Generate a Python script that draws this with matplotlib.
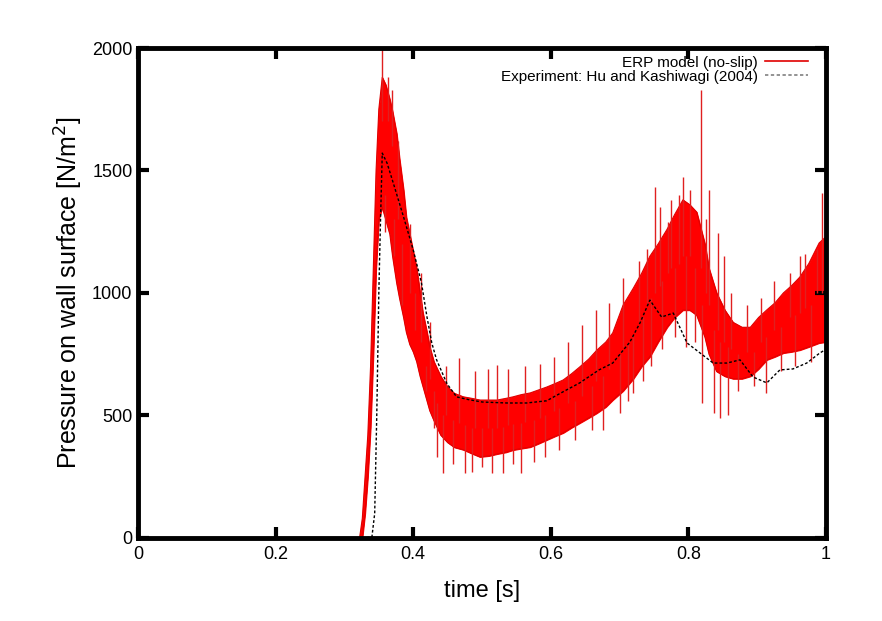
import numpy as np
import matplotlib
matplotlib.use('Agg')
import matplotlib.pyplot as plt
from matplotlib.lines import Line2D

plt.rcParams['font.family'] = ['Liberation Sans', 'DejaVu Sans']

# ERP model (no-slip): lower / upper edge of the noisy red band
t_red = [0.0, 0.322, 0.326, 0.330, 0.334, 0.338, 0.342, 0.346, 0.350, 0.355,
         0.360, 0.366, 0.370, 0.376, 0.380, 0.386, 0.390, 0.395, 0.400, 0.405,
         0.410, 0.414, 0.420, 0.424, 0.430, 0.440, 0.450, 0.460, 0.473, 0.485,
         0.497, 0.510, 0.522, 0.535, 0.545, 0.557, 0.570, 0.582, 0.594, 0.606,
         0.618, 0.630, 0.642, 0.655, 0.667, 0.680, 0.690, 0.705, 0.720, 0.732,
         0.744, 0.756, 0.769, 0.780, 0.792, 0.802, 0.812, 0.824, 0.830, 0.841,
         0.853, 0.865, 0.878, 0.890, 0.902, 0.914, 0.926, 0.938, 0.950, 0.962,
         0.975, 0.990, 1.000]
red_lo = [0, 0, 0, 100, 250, 450, 750, 1100, 1300, 1350,
          1300, 1240, 1150, 1040, 980, 900, 840, 790, 760, 720,
          660, 620, 560, 520, 480, 420, 390, 370, 360, 345,
          331, 335, 343, 350, 359, 365, 371, 385, 400, 415,
          429, 450, 469, 490, 510, 535, 563, 600, 650, 700,
          740, 800, 860, 900, 930, 930, 910, 820, 750, 680,
          660, 650, 650, 660, 690, 727, 740, 755, 760, 767,
          780, 796, 800]
red_hi = [0, 0, 80, 250, 420, 700, 1100, 1500, 1750, 1880,
          1850, 1790, 1740, 1650, 1550, 1420, 1310, 1240, 1170, 1100,
          1000, 920, 840, 780, 720, 660, 616, 590, 576, 570,
          563, 563, 563, 570, 576, 585, 592, 604, 616, 630,
          645, 670, 698, 730, 767, 800, 837, 950, 1020, 1080,
          1150, 1200, 1260, 1320, 1380, 1360, 1330, 1200, 1100, 1000,
          930, 880, 860, 860, 900, 931, 960, 1000, 1030, 1065,
          1120, 1204, 1230]

# single spikes sticking out of the band
spike_t = [0.355, 0.363, 0.369, 0.359, 0.372, 0.378, 0.384, 0.395, 0.402, 0.412,
           0.418, 0.425, 0.430, 0.435, 0.443, 0.448,
           0.458, 0.467, 0.475, 0.485, 0.490, 0.500, 0.508, 0.515, 0.522, 0.530,
           0.538, 0.545, 0.556, 0.562, 0.575, 0.585, 0.592, 0.605, 0.612, 0.625,
           0.635, 0.645, 0.660, 0.665, 0.676, 0.685, 0.700, 0.705, 0.712, 0.720,
           0.728, 0.734, 0.740, 0.746, 0.752, 0.758, 0.762, 0.770, 0.775, 0.780,
           0.786, 0.792, 0.797, 0.802, 0.810, 0.818, 0.820, 0.826,
           0.830, 0.837, 0.843, 0.846, 0.852, 0.858, 0.862, 0.872, 0.885, 0.895,
           0.905, 0.913, 0.925, 0.935, 0.948, 0.955, 0.962, 0.970, 0.978, 0.987,
           0.994, 0.998]
spike_base = [1700, 1700, 1600, 1400, 1300, 1300, 1200, 1000, 1000, 800,
              700, 650, 600, 550, 500, 500,
              480, 470, 460, 450, 450, 450, 450, 450, 450, 455,
              460, 465, 470, 475, 480, 490, 500, 520, 530, 550,
              560, 580, 620, 640, 660, 690, 750, 780, 800, 830,
              880, 900, 950, 980, 1000, 1030, 1050, 1080, 1100, 1100,
              1120, 1150, 1150, 1150, 1100, 1100, 950, 1000,
              950, 850, 850, 800, 800, 780, 770, 750, 760, 760,
              800, 820, 850, 860, 900, 910, 920, 940, 950, 1000,
              1000, 1000]
spike_tip = [1995, 1880, 1830, 1250, 1150, 1620, 950, 1280, 850, 1080,
             600, 880, 450, 330, 265, 700,
             300, 733, 265, 270, 680, 290, 690, 265, 706, 265,
             690, 300, 265, 700, 310, 710, 330, 740, 360, 800,
             400, 870, 440, 930, 440, 960, 510, 1060, 560, 590,
             1130, 640, 1180, 700, 1433, 1350, 770, 1290, 1380, 820,
             1400, 1475, 780, 1420, 800, 1829, 551, 1300,
             1420, 510, 1245, 490, 1150, 500, 1000, 600, 950, 620,
             980, 590, 1050, 680, 1080, 700, 1150, 1160, 720, 1180,
             1408, 760]

# Experiment: Hu and Kashiwagi (2004)
t_exp = [0.0, 0.330, 0.340, 0.344, 0.347, 0.350, 0.352, 0.355, 0.362, 0.371,
         0.386, 0.400, 0.412, 0.420, 0.427, 0.434, 0.449, 0.463, 0.480, 0.500,
         0.536, 0.565, 0.594, 0.620, 0.642, 0.670, 0.690, 0.715, 0.730, 0.744,
         0.761, 0.778, 0.798, 0.817, 0.836, 0.856, 0.875, 0.894, 0.914, 0.933,
         0.952, 0.972, 0.991, 1.000]
p_exp = [0, 0, 5, 100, 500, 1000, 1245, 1571, 1530, 1449,
         1310, 1176, 1041, 902, 796, 727, 630, 576, 565, 555,
         551, 551, 560, 600, 633, 686, 714, 800, 880, 971,
         902, 918, 796, 755, 714, 714, 727, 657, 633, 686,
         690, 714, 755, 770]

fig = plt.figure(figsize=(8.82, 6.21), dpi=100)
ax = fig.add_axes([0.1565, 0.1337, 0.78, 0.789])

ax.fill_between(t_red, red_lo, red_hi, color='#ff0000', linewidth=0.8, edgecolor='#ff0000')
ax.plot(t_red, red_hi, color='#e00000', lw=0.8)
ax.plot(t_red, red_lo, color='#e00000', lw=0.8)
ax.vlines(spike_t, spike_base, spike_tip, color='#e02020', lw=1.0)
ax.plot(t_exp, p_exp, color='black', lw=1.0, ls=(0, (2, 1.5)))

ax.set_xlim(0, 1)
ax.set_ylim(0, 2000)
ax.set_xticks([0, 0.2, 0.4, 0.6, 0.8, 1])
ax.set_xticklabels(['0', '0.2', '0.4', '0.6', '0.8', '1'])
ax.set_yticks([0, 500, 1000, 1500, 2000])

for s in ax.spines.values():
    s.set_linewidth(3.5)
ax.tick_params(direction='in', length=8, width=3, top=True, right=True,
               labelsize=13)
ax.tick_params(axis='y', pad=4)
ax.tick_params(axis='x', pad=6)
ax.set_xlabel('time [s]', fontsize=17, labelpad=12)
ax.set_ylabel('Pressure on wall surface [N/m$^2$]', fontsize=18, labelpad=5)

handles = [Line2D([], [], color='#e00000', lw=1.2),
           Line2D([], [], color='gray', lw=1.2, ls=(0, (2, 1.5)))]
leg = ax.legend(handles, ['ERP model (no-slip)', 'Experiment: Hu and Kashiwagi (2004)'],
                loc='upper right', bbox_to_anchor=(0.974, 0.984), frameon=False,
                fontsize=11, markerfirst=False, handlelength=2.8, handletextpad=0.5,
                labelspacing=0.0, borderaxespad=0, borderpad=0)
for txt in leg.get_texts():
    txt.set_ha('right')

fig.savefig('out.png', dpi=100)
